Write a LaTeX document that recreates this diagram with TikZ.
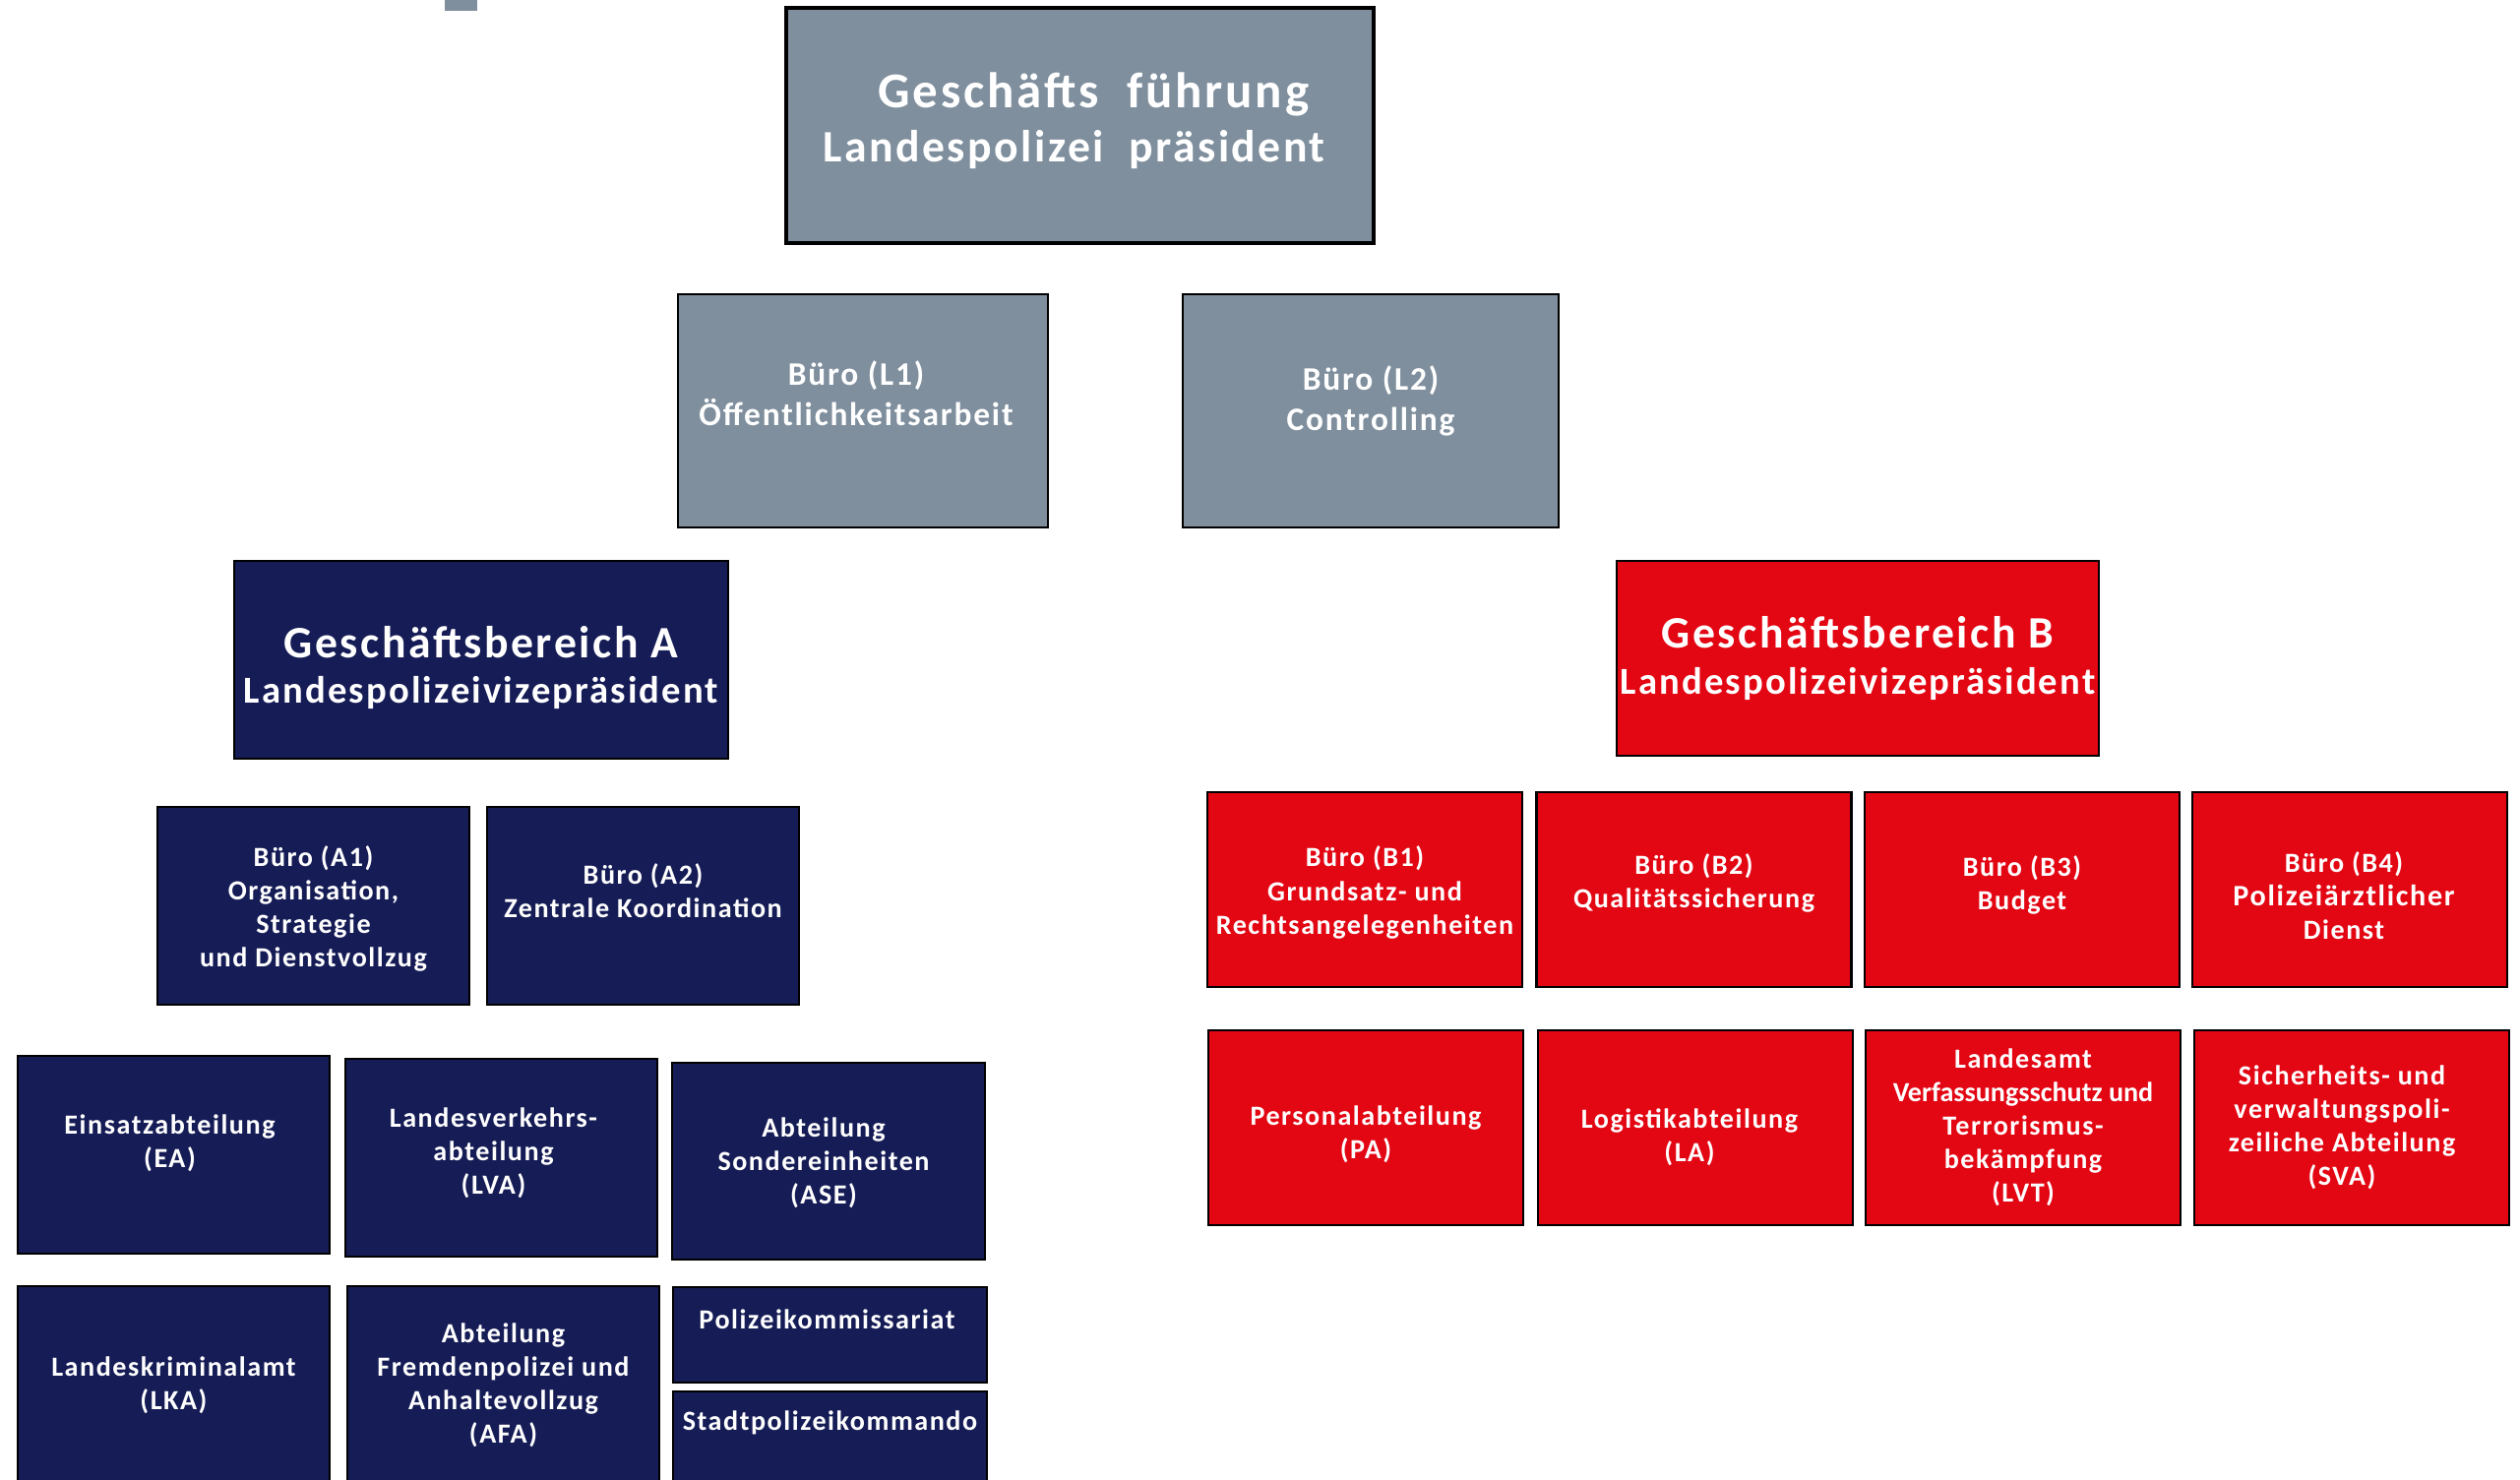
\documentclass[tikz,border=0pt]{standalone}
\usepackage{fontspec}
\setmainfont{Carlito}[LetterSpace=5.5]
\definecolor{slategray}{HTML}{7F8F9E}
\definecolor{navyblue}{HTML}{161D56}
\definecolor{policered}{HTML}{E30613}

\begin{document}
\begin{tikzpicture}[
    orgbox/.style={draw=black, line width=0.8pt, inner sep=0pt},
    orglabel/.style={text=white, align=center, inner sep=0pt,
                     font=\bfseries\fontsize{8}{9.7}\selectfont},
    bigboxlabel/.style={orglabel, font=\bfseries\fontsize{11}{13.3}\selectfont},
  ]
  \useasboundingbox (0,0) rectangle (25.61,-15.03);
  \clip (0,0) rectangle (25.61,-15.03);

  % small tab at the top edge
  \fill[slategray] (4.52,0.05) rectangle (4.85,-0.11);

  % Leitung
  \node[orgbox, line width=1.2pt, fill=slategray, minimum width=5.97cm, minimum height=2.39cm]
    (lp) at (10.975,-1.275) {};
  \node[orglabel, font=\bfseries\fontsize{13}{15.8}\selectfont] (lp-lbl) at ([xshift=-0.06cm, yshift=0.05cm]lp.center)
    {\hspace{0.4cm}{\fontsize{14.5}{15.8}\selectfont Geschäfts\ \ führung}\\Landespolizei\ \ präsident};

  \foreach \nm/\x/\y/\w/\h/\dx/\dy/\txt in {
      l1/8.77/-4.175/3.76/2.37/-0.07/0.18/{Büro (L1)\\Öffentlichkeitsarbeit},
      l2/13.93/-4.175/3.82/2.37/0/0.10/{Büro (L2)\\Controlling}%
    }{
      \node[orgbox, fill=slategray, minimum width=\w cm, minimum height=\h cm] (\nm) at (\x,\y) {};
      \node[orglabel, font=\bfseries\fontsize{9.5}{11.6}\selectfont] (\nm-lbl)
        at ([xshift=\dx cm, yshift=\dy cm]\nm.center) {\txt};
    }

  % Geschaeftsbereiche
  \node[orgbox, fill=navyblue, minimum width=5.02cm, minimum height=2.01cm] (gba) at (4.89,-6.705) {};
  \node[bigboxlabel] (gba-lbl) at ([yshift=-0.08cm]gba.center)
    {{\fontsize{13}{13.3}\selectfont Geschäftsbereich A}\\Landespolizeivizepräsident};
  \node[orgbox, fill=policered, minimum width=4.90cm, minimum height=1.98cm] (gbb) at (18.88,-6.69) {};
  \node[bigboxlabel] (gbb-lbl) at (gbb.center)
    {{\fontsize{13}{13.3}\selectfont Geschäftsbereich B}\\Landespolizeivizepräsident};

  % Bereich A
  \foreach \nm/\x/\y/\w/\h/\dx/\dy/\txt in {
      a1/3.185/-9.205/3.17/2.01/0/-0.03/{Büro (A1)\\Organisation,\\Strategie\\und Dienstvollzug},
      a2/6.535/-9.205/3.17/2.01/0/0.155/{Büro (A2)\\Zentrale Koordination},
      ea/1.765/-11.735/3.17/2.01/-0.04/0.12/{Einsatzabteilung\\(EA)},
      lva/5.095/-11.765/3.17/2.01/-0.08/0.05/{Landesverkehrs-\\abteilung\\(LVA)},
      ase/8.42/-11.80/3.18/2.00/-0.05/-0.02/{Abteilung\\Sondereinheiten\\(ASE)},
      lka/1.765/-14.075/3.17/2.01/0/0/{Landeskriminalamt\\(LKA)},
      afa/5.115/-14.075/3.17/2.01/0/0/{Abteilung\\Fremdenpolizei und\\Anhaltevollzug\\(AFA)},
      pk/8.435/-13.565/3.19/0.97/-0.03/0.155/{Polizeikommissariat},
      spk/8.435/-14.625/3.19/0.97/0/0.17/{Stadtpolizeikommando}%
    }{
      \node[orgbox, fill=navyblue, minimum width=\w cm, minimum height=\h cm] (\nm) at (\x,\y) {};
      \node[orglabel] (\nm-lbl) at ([xshift=\dx cm, yshift=\dy cm]\nm.center) {\txt};
    }

  % Bereich B
  \foreach \nm/\x/\y/\dx/\dy/\txt in {
      b1/13.87/-9.04/0/-0.03/{Büro (B1)\\Grundsatz- und\\Rechtsangelegenheiten},
      b2/17.215/-9.04/0/0.065/{Büro (B2)\\Qualitätssicherung},
      b3/20.55/-9.04/0/0.05/{Büro (B3)\\Budget},
      b4/23.88/-9.04/-0.06/-0.065/{Büro (B4)\\{\fontsize{8.6}{9.7}\selectfont Polizeiärztlicher}\\Dienst},
      pa/13.88/-11.46/0/-0.065/{Personalabteilung\\(PA)},
      la/17.23/-11.46/-0.06/-0.10/{Logistikabteilung\\(LA)},
      lvt/20.56/-11.46/0/0/{Landesamt\\{\addfontfeatures{LetterSpace=0}Verfassungsschutz und}\\Terrorismus-\\bekämpfung\\(LVT)},
      sva/23.9/-11.46/-0.1/0/{Sicherheits- und\\verwaltungspoli-\\zeiliche Abteilung\\(SVA)}%
    }{
      \node[orgbox, fill=policered, minimum width=3.2cm, minimum height=1.98cm] (\nm) at (\x,\y) {};
      \node[orglabel] (\nm-lbl) at ([xshift=\dx cm, yshift=\dy cm]\nm.center) {\txt};
    }
\end{tikzpicture}
\end{document}
